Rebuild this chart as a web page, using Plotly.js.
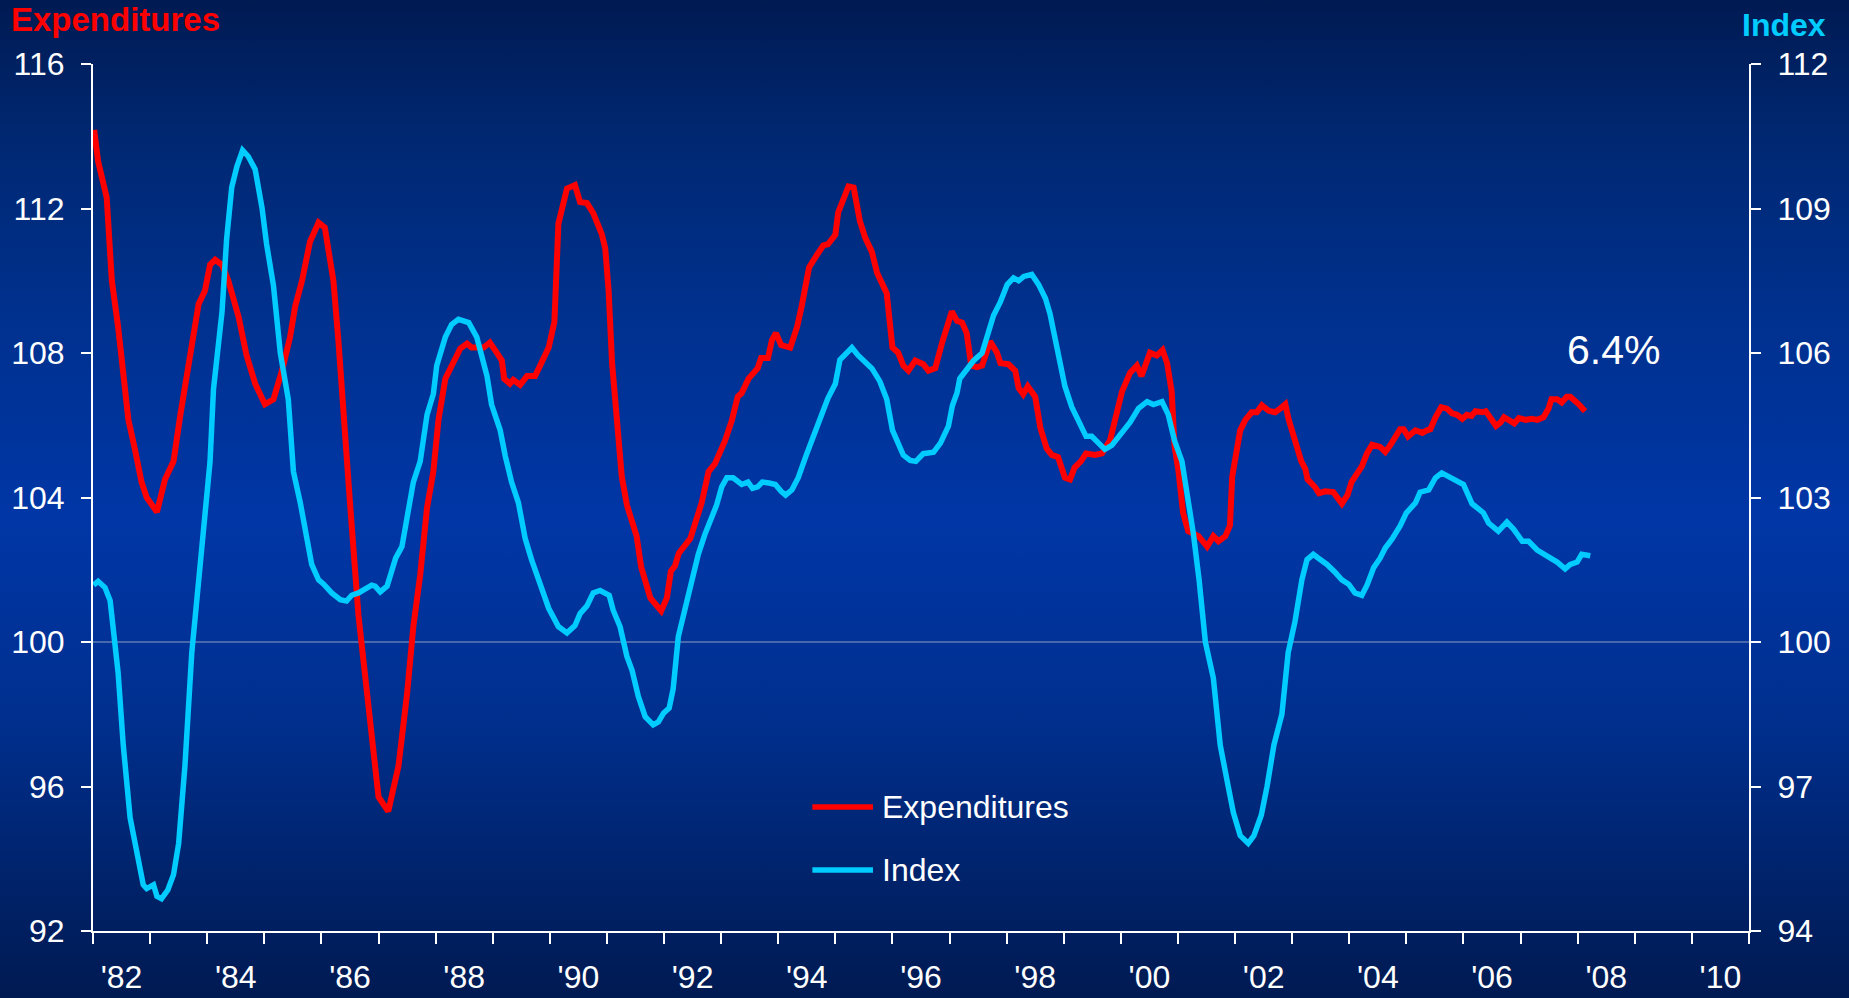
<!DOCTYPE html>
<html>
<head>
<meta charset="utf-8">
<script src="https://cdn.plot.ly/plotly-3.0.1.min.js"></script>
<style>
html, body { margin:0; padding:0; width:1849px; height:998px; overflow:hidden;
  background: linear-gradient(180deg, #001a52 0%, #002872 14%, #00318f 32%, #0036a6 52%, #002f8e 72%, #002166 90%, #001a52 100%); }
#chart { width:1849px; height:998px; }
</style>
</head>
<body>
<div id="chart"></div>
<script>
// Expenditures (left axis) — decimal year / value
const expYears = [1982.02,1982.09,1982.24,1982.33,1982.44,1982.53,1982.62,1982.74,1982.85,1982.94,1983.12,1983.26,1983.41,1983.53,1983.64,1983.73,1983.85,1983.96,1984.05,1984.14,1984.26,1984.37,1984.55,1984.69,1984.84,1985.01,1985.16,1985.31,1985.45,1985.54,1985.66,1985.80,1985.95,1986.06,1986.21,1986.30,1986.39,1986.50,1986.65,1986.82,1987.00,1987.17,1987.35,1987.50,1987.61,1987.73,1987.85,1987.96,1988.05,1988.17,1988.28,1988.43,1988.55,1988.63,1988.84,1988.95,1989.07,1989.16,1989.20,1989.30,1989.36,1989.48,1989.60,1989.74,1989.83,1989.98,1990.08,1990.15,1990.30,1990.44,1990.53,1990.65,1990.76,1990.91,1990.97,1991.03,1991.09,1991.17,1991.26,1991.35,1991.52,1991.60,1991.76,1991.95,1992.05,1992.12,1992.19,1992.26,1992.46,1992.66,1992.78,1992.89,1993.07,1993.19,1993.29,1993.36,1993.48,1993.64,1993.70,1993.82,1993.89,1993.96,1994.05,1994.21,1994.33,1994.41,1994.54,1994.68,1994.79,1994.87,1995.00,1995.05,1995.14,1995.23,1995.32,1995.43,1995.52,1995.64,1995.73,1995.90,1996.00,1996.10,1996.19,1996.28,1996.40,1996.54,1996.63,1996.75,1996.87,1997.04,1997.13,1997.22,1997.30,1997.38,1997.48,1997.57,1997.71,1997.83,1997.89,1998.03,1998.15,1998.21,1998.29,1998.37,1998.50,1998.59,1998.70,1998.79,1998.90,1999.02,1999.11,1999.19,1999.30,1999.39,1999.55,1999.67,1999.81,1999.90,2000.02,2000.16,2000.28,2000.36,2000.51,2000.63,2000.73,2000.81,2000.89,2000.94,2001.01,2001.09,2001.18,2001.36,2001.51,2001.62,2001.71,2001.83,2001.91,2001.95,2002.03,2002.09,2002.18,2002.29,2002.38,2002.47,2002.59,2002.70,2002.79,2002.88,2002.94,2003.05,2003.16,2003.23,2003.27,2003.40,2003.47,2003.58,2003.72,2003.87,2003.97,2004.04,2004.22,2004.31,2004.40,2004.54,2004.63,2004.72,2004.89,2004.95,2005.03,2005.16,2005.28,2005.36,2005.42,2005.51,2005.61,2005.71,2005.80,2005.89,2005.98,2006.06,2006.14,2006.21,2006.33,2006.39,2006.48,2006.57,2006.65,2006.71,2006.89,2006.97,2007.09,2007.20,2007.29,2007.40,2007.49,2007.54,2007.64,2007.72,2007.81,2007.87,2008.02,2008.13];
const expValues = [114.18,113.30,112.30,110.00,108.72,107.43,106.15,105.29,104.43,104.00,103.60,104.50,105.00,106.29,107.29,108.22,109.36,109.72,110.44,110.58,110.44,110.00,109.00,107.93,107.15,106.58,106.72,107.51,108.43,109.29,110.00,111.08,111.61,111.47,110.00,108.29,106.15,103.86,100.72,98.28,95.71,95.31,96.57,98.57,100.43,101.86,103.72,104.72,106.15,107.29,107.65,108.12,108.26,108.15,108.15,108.29,108.01,107.79,107.29,107.15,107.26,107.12,107.36,107.36,107.65,108.15,108.86,111.58,112.55,112.65,112.18,112.15,111.87,111.29,110.90,109.72,107.72,106.15,104.58,103.79,102.93,102.07,101.22,100.86,101.22,101.96,102.10,102.46,102.86,103.86,104.72,104.93,105.58,106.15,106.79,106.89,107.29,107.58,107.86,107.86,108.36,108.55,108.22,108.15,108.72,109.29,110.37,110.72,110.98,111.01,111.27,111.89,112.22,112.61,112.58,111.65,111.20,110.80,110.22,109.65,108.15,108.01,107.65,107.51,107.79,107.69,107.51,107.58,108.29,109.15,108.89,108.84,108.55,107.65,107.61,107.65,108.32,108.01,107.72,107.69,107.51,107.03,106.86,107.08,106.79,105.93,105.36,105.18,105.12,104.55,104.50,104.83,105.00,105.22,105.18,105.22,105.58,106.15,106.93,107.45,107.65,107.36,108.01,107.93,108.08,107.72,106.93,105.43,104.72,103.57,103.07,102.93,102.64,102.93,102.79,102.93,103.22,104.58,105.43,105.86,106.15,106.36,106.36,106.55,106.40,106.36,106.46,106.58,106.15,105.58,105.00,104.79,104.50,104.29,104.12,104.17,104.15,103.83,104.07,104.43,104.86,105.22,105.46,105.40,105.26,105.45,105.89,105.89,105.69,105.86,105.79,105.86,105.89,106.22,106.50,106.46,106.33,106.29,106.18,106.29,106.26,106.39,106.36,106.39,106.15,105.98,106.08,106.22,106.05,106.20,106.15,106.18,106.15,106.22,106.46,106.72,106.72,106.63,106.79,106.79,106.58,106.39];

// Index (right axis) — decimal year / value
const idxYears = [1982.01,1982.09,1982.21,1982.30,1982.44,1982.53,1982.65,1982.77,1982.88,1982.94,1983.06,1983.12,1983.20,1983.31,1983.41,1983.50,1983.61,1983.73,1983.85,1983.96,1984.05,1984.11,1984.26,1984.34,1984.43,1984.52,1984.62,1984.72,1984.84,1984.96,1985.04,1985.16,1985.28,1985.42,1985.51,1985.63,1985.74,1985.83,1985.95,1986.04,1986.18,1986.33,1986.44,1986.53,1986.65,1986.77,1986.88,1986.94,1987.03,1987.15,1987.23,1987.30,1987.41,1987.48,1987.55,1987.61,1987.73,1987.85,1987.96,1988.02,1988.17,1988.28,1988.40,1988.58,1988.72,1988.81,1988.90,1988.98,1989.13,1989.22,1989.33,1989.45,1989.57,1989.68,1989.83,1989.98,1990.15,1990.30,1990.44,1990.53,1990.65,1990.76,1990.88,1990.97,1991.04,1991.11,1991.23,1991.35,1991.44,1991.55,1991.67,1991.81,1991.90,1991.99,1992.09,1992.16,1992.25,1992.37,1992.50,1992.60,1992.72,1992.84,1992.92,1993.01,1993.10,1993.21,1993.36,1993.47,1993.55,1993.64,1993.72,1993.84,1993.95,1994.05,1994.13,1994.24,1994.35,1994.50,1994.65,1994.76,1994.87,1995.00,1995.08,1995.29,1995.40,1995.52,1995.64,1995.78,1995.90,1996.00,1996.10,1996.19,1996.31,1996.41,1996.54,1996.72,1996.84,1996.98,1997.05,1997.13,1997.18,1997.30,1997.42,1997.57,1997.66,1997.77,1997.89,1998.01,1998.12,1998.21,1998.30,1998.44,1998.56,1998.68,1998.76,1998.84,1998.91,1999.02,1999.14,1999.26,1999.39,1999.49,1999.61,1999.72,1999.84,1999.96,2000.05,2000.16,2000.31,2000.46,2000.57,2000.72,2000.83,2000.94,2001.07,2001.16,2001.27,2001.37,2001.48,2001.62,2001.74,2001.88,2001.97,2002.09,2002.23,2002.33,2002.46,2002.56,2002.68,2002.82,2002.93,2003.05,2003.17,2003.26,2003.37,2003.46,2003.61,2003.75,2003.87,2003.99,2004.10,2004.22,2004.31,2004.43,2004.54,2004.63,2004.75,2004.89,2005.00,2005.16,2005.24,2005.39,2005.51,2005.62,2005.74,2005.86,2006.00,2006.15,2006.35,2006.44,2006.61,2006.76,2006.88,2007.03,2007.14,2007.29,2007.40,2007.52,2007.64,2007.78,2007.87,2007.99,2008.07,2008.22];
const idxValues = [101.18,101.26,101.13,100.86,99.36,97.86,96.35,95.60,94.96,94.88,94.96,94.72,94.67,94.85,95.17,95.82,97.43,99.78,101.29,102.57,103.75,105.25,106.86,108.36,109.44,109.87,110.21,110.08,109.81,109.01,108.26,107.40,106.00,105.04,103.54,102.89,102.14,101.61,101.29,101.20,101.02,100.88,100.85,100.97,101.02,101.09,101.18,101.16,101.04,101.16,101.45,101.74,101.98,102.47,102.79,103.32,103.75,104.72,105.15,105.74,106.33,106.59,106.70,106.63,106.33,105.90,105.52,104.93,104.40,103.86,103.32,102.89,102.14,101.71,101.18,100.70,100.32,100.19,100.34,100.59,100.75,101.02,101.07,101.00,100.97,100.66,100.32,99.70,99.41,98.87,98.45,98.28,98.34,98.52,98.63,99.03,100.11,100.70,101.39,101.82,102.25,102.63,102.84,103.22,103.41,103.41,103.27,103.32,103.19,103.22,103.32,103.30,103.27,103.13,103.05,103.16,103.41,103.91,104.34,104.72,105.06,105.36,105.86,106.11,105.95,105.80,105.68,105.41,105.04,104.40,104.13,103.88,103.77,103.75,103.91,103.94,104.13,104.48,104.91,105.17,105.47,105.68,105.84,106.00,106.35,106.78,107.06,107.42,107.56,107.50,107.59,107.63,107.42,107.13,106.81,106.33,105.84,105.31,104.88,104.56,104.27,104.27,104.13,104.00,104.08,104.27,104.43,104.56,104.85,104.99,104.93,104.99,104.72,104.18,103.75,103.06,102.25,101.29,100.00,99.25,97.86,97.00,96.46,95.98,95.82,95.98,96.41,97.00,97.86,98.50,99.78,100.43,101.29,101.71,101.82,101.74,101.61,101.45,101.29,101.20,101.02,100.97,101.18,101.55,101.74,101.95,102.14,102.41,102.68,102.89,103.11,103.16,103.41,103.51,103.43,103.35,103.27,102.87,102.68,102.47,102.30,102.49,102.34,102.09,102.09,101.91,101.84,101.74,101.66,101.52,101.61,101.66,101.82,101.79];

// Axis ticks and labels
const yearTicks = [1982,1983,1984,1985,1986,1987,1988,1989,1990,1991,1992,1993,1994,1995,1996,1997,1998,1999,2000,2001,2002,2003,2004,2005,2006,2007,2008,2009,2010,2011];
const yearLabelPos = [1982.5,1984.5,1986.5,1988.5,1990.5,1992.5,1994.5,1996.5,1998.5,2000.5,2002.5,2004.5,2006.5,2008.5,2010.5];
const yearLabels = ["'82","'84","'86","'88","'90","'92","'94","'96","'98","'00","'02","'04","'06","'08","'10"];
const leftTicks = [92,96,100,104,108,112,116];
const rightTicks = [94,97,100,103,106,109,112];
const annotationText = "6.4%";

const FONT = "Liberation Sans, Arial, Helvetica, sans-serif";
const RED = "#ff0000";
const CYAN = "#00ccff";

const traces = [
  {x: expYears, y: expValues, type: 'scatter', mode: 'lines', name: 'Expenditures',
   line: {color: RED, width: 6}, yaxis: 'y', hoverinfo: 'skip'},
  {x: idxYears, y: idxValues, type: 'scatter', mode: 'lines', name: 'Index',
   line: {color: CYAN, width: 5.5}, yaxis: 'y2', hoverinfo: 'skip'}
];

const tickFont = {family: FONT, size: 32, color: '#ffffff'};

const layout = {
  width: 1849, height: 998,
  margin: {l: 93, r: 100, t: 64, b: 67, pad: 0},
  paper_bgcolor: 'rgba(0,0,0,0)',
  plot_bgcolor: 'rgba(0,0,0,0)',
  showlegend: false,
  xaxis: {
    range: [1982, 2011], showgrid: false, zeroline: false,
    showline: true, linecolor: '#ffffff', linewidth: 2,
    tickmode: 'array', tickvals: yearLabelPos, ticktext: yearLabels,
    ticks: '', tickfont: tickFont, ticklabelstandoff: 17,
    minor: {tickmode: 'array', tickvals: yearTicks, ticks: 'outside', ticklen: 11,
            tickwidth: 2, tickcolor: '#ffffff', showgrid: false}
  },
  yaxis: {
    range: [92, 116], showgrid: false, zeroline: false,
    showline: true, linecolor: '#ffffff', linewidth: 2,
    tickmode: 'array', tickvals: leftTicks, ticks: 'outside', ticklen: 10,
    tickwidth: 2, tickcolor: '#ffffff', tickfont: tickFont, ticklabelstandoff: 10
  },
  yaxis2: {
    range: [94, 112], overlaying: 'y', side: 'right', anchor: 'x',
    showgrid: false, zeroline: false,
    showline: true, linecolor: '#ffffff', linewidth: 2,
    tickmode: 'array', tickvals: rightTicks, ticks: 'outside', ticklen: 10,
    tickwidth: 2, tickcolor: '#ffffff', tickfont: tickFont, ticklabelstandoff: 10
  },
  yaxis3: {
    range: [92, 116], overlaying: 'y', side: 'left', anchor: 'x',
    showgrid: false, zeroline: false, showline: false, showticklabels: false,
    tickmode: 'array', tickvals: leftTicks, ticks: 'inside', ticklen: 10,
    tickwidth: 2, tickcolor: '#ffffff'
  },
  yaxis4: {
    range: [94, 112], overlaying: 'y', side: 'right', anchor: 'x',
    showgrid: false, zeroline: false, showline: false, showticklabels: false,
    tickmode: 'array', tickvals: rightTicks, ticks: 'inside', ticklen: 10,
    tickwidth: 2, tickcolor: '#ffffff'
  },
  shapes: [
    {type: 'line', xref: 'paper', x0: 0, x1: 1, yref: 'y', y0: 100, y1: 100,
     line: {color: 'rgba(170,180,205,0.85)', width: 1}, layer: 'below'},
    {type: 'line', xref: 'paper', yref: 'paper', x0: 0.4344, x1: 0.4710, y0: 0.1430, y1: 0.1430,
     line: {color: RED, width: 5.5}},
    {type: 'line', xref: 'paper', yref: 'paper', x0: 0.4344, x1: 0.4710, y0: 0.0704, y1: 0.0704,
     line: {color: CYAN, width: 5.5}}
  ],
  annotations: [
    {text: 'Expenditures', xref: 'paper', yref: 'paper', x: -0.0505, y: 1.0508,
     xanchor: 'left', yanchor: 'middle', showarrow: false,
     font: {family: FONT, size: 33, color: RED, weight: 'bold'}},
    {text: 'Index', xref: 'paper', yref: 'paper', x: 1.0477, y: 1.0445,
     xanchor: 'right', yanchor: 'middle', showarrow: false,
     font: {family: FONT, size: 32, color: CYAN, weight: 'bold'}},
    {text: 'Expenditures', xref: 'paper', yref: 'paper', x: 0.4753, y: 0.1430,
     xanchor: 'left', yanchor: 'middle', showarrow: false,
     font: {family: FONT, size: 32, color: '#ffffff'}},
    {text: 'Index', xref: 'paper', yref: 'paper', x: 0.4753, y: 0.0704,
     xanchor: 'left', yanchor: 'middle', showarrow: false,
     font: {family: FONT, size: 32, color: '#ffffff'}},
    {text: annotationText, xref: 'paper', yref: 'paper', x: 0.918, y: 0.670,
     xanchor: 'center', yanchor: 'middle', showarrow: false,
     font: {family: FONT, size: 41, color: '#ffffff'}}
  ]
};

Plotly.newPlot('chart', traces, layout, {displayModeBar: false, staticPlot: true});
</script>
</body>
</html>
